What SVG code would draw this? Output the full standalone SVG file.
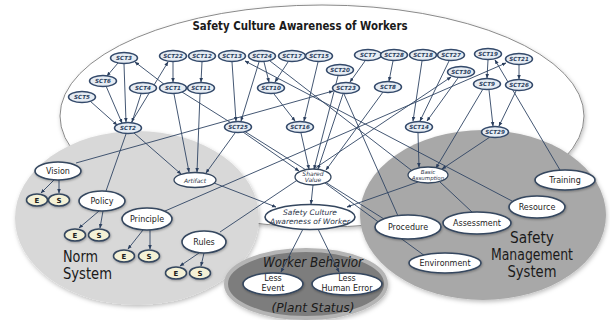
<svg xmlns="http://www.w3.org/2000/svg" width="610" height="320" viewBox="0 0 610 320">
  <defs>
    <filter id="soft" x="-10%" y="-10%" width="120%" height="130%">
      <feDropShadow dx="1" dy="2" stdDeviation="2" flood-color="#000" flood-opacity="0.25"/>
    </filter>
    <filter id="nshadow" x="-20%" y="-30%" width="140%" height="170%">
      <feDropShadow dx="0.6" dy="1" stdDeviation="0.8" flood-color="#000" flood-opacity="0.3"/>
    </filter>
    <marker id="ah" viewBox="0 0 10 10" refX="9" refY="5" markerWidth="5" markerHeight="5" orient="auto">
      <path d="M0,1 L10,5 L0,9 z" fill="#2b3f5e"/>
    </marker>
  </defs>
  <style>
    .sct ellipse { fill: #e6ecf3; stroke: #33496a; stroke-width: 1.5; }
    .sct text { font-family: "DejaVu Sans", sans-serif; font-style: italic; font-weight: bold; font-size: 5.6px; fill: #2b3f5e; text-anchor: middle; }
    .lvl ellipse { fill: #ffffff; stroke: #34465e; stroke-width: 1.6; filter: url(#nshadow); }
    .lvl text { font-family: "DejaVu Sans", sans-serif; font-size: 8px; fill: #1c1c1c; text-anchor: middle; }
    .mid ellipse { fill: #ffffff; stroke: #34465e; stroke-width: 1.3; }
    .mid text { font-family: "DejaVu Sans", sans-serif; font-style: italic; font-size: 6px; fill: #2b3448; text-anchor: middle; }
    .es ellipse { fill: #f4f1d6; stroke: #34465e; stroke-width: 1.5; filter: url(#nshadow); }
    .es text { font-family: "DejaVu Sans", sans-serif; font-weight: bold; font-size: 7px; fill: #1c1c1c; text-anchor: middle; }
    .big { font-family: "DejaVu Sans", sans-serif; font-size: 15px; fill: #1a1a1a; }
    .edges line { stroke: #2f4463; stroke-width: 0.9; }
    .edges .a { marker-end: url(#ah); }
  </style>

  <!-- background regions -->
  <g id="regions">
    <ellipse cx="322" cy="116" rx="262" ry="111" fill="#ffffff" stroke="#8a8a8a" stroke-width="1" filter="url(#soft)"/>
    <ellipse cx="137" cy="218" rx="122" ry="87" fill="#d8d8d8" filter="url(#soft)"/>
    <ellipse cx="483" cy="215" rx="123" ry="85" fill="#a8a8a8" filter="url(#soft)"/>
    <ellipse cx="306" cy="284" rx="80" ry="34" fill="#7d7d7d" stroke="#b4b4b4" stroke-width="4" filter="url(#soft)"/>
  </g>

  <!-- region titles -->
  <g id="titles">
    <text x="300" y="30" font-family="DejaVu Sans, sans-serif" font-weight="bold" font-size="12.5" text-anchor="middle" fill="#1a1a1a" textLength="215" lengthAdjust="spacingAndGlyphs">Safety Culture Awareness of Workers</text>
    <text class="big" x="63" y="262" textLength="35" lengthAdjust="spacingAndGlyphs">Norm</text>
    <text class="big" x="63" y="279" textLength="49" lengthAdjust="spacingAndGlyphs">System</text>
    <text class="big" x="532" y="243" text-anchor="middle" textLength="44" lengthAdjust="spacingAndGlyphs">Safety</text>
    <text class="big" x="532" y="260" text-anchor="middle" textLength="82" lengthAdjust="spacingAndGlyphs">Management</text>
    <text class="big" x="532" y="277" text-anchor="middle" textLength="49" lengthAdjust="spacingAndGlyphs">System</text>
    <text x="313" y="267" font-family="DejaVu Sans, sans-serif" font-style="italic" font-size="14" text-anchor="middle" fill="#1a1a1a" textLength="100" lengthAdjust="spacingAndGlyphs">Worker Behavior</text>
    <text x="313" y="312" font-family="DejaVu Sans, sans-serif" font-style="italic" font-size="13" text-anchor="middle" fill="#1a1a1a" textLength="83" lengthAdjust="spacingAndGlyphs">(Plant Status)</text>
  </g>

  <!-- connectors -->
  <g id="connectors" class="edges">
    <line class="a" x1="118" y1="63" x2="107" y2="76"/>
    <line class="a" x1="124" y1="64" x2="126" y2="122"/>
    <line class="a" x1="106" y1="86" x2="122" y2="123"/>
    <line class="a" x1="90" y1="101" x2="117" y2="125"/>
    <line class="a" x1="141" y1="94" x2="132" y2="122"/>
    <line class="a" x1="131" y1="123" x2="168" y2="62"/>
    <line class="a" x1="165" y1="85" x2="135" y2="62"/>
    <line class="a" x1="173" y1="62" x2="173" y2="82"/>
    <line class="a" x1="202" y1="62" x2="201" y2="82"/>
    <line class="a" x1="232" y1="62" x2="236" y2="121"/>
    <line class="a" x1="259" y1="62" x2="241" y2="121"/>
    <line class="a" x1="264" y1="62" x2="269" y2="82"/>
    <line class="a" x1="288" y1="62" x2="275" y2="82"/>
    <line class="a" x1="274" y1="94" x2="295" y2="121"/>
    <line class="a" x1="318" y1="62" x2="304" y2="121"/>
    <line class="a" x1="365" y1="61" x2="350" y2="82"/>
    <line class="a" x1="393" y1="61" x2="389" y2="81"/>
    <line class="a" x1="422" y1="61" x2="413" y2="121"/>
    <line class="a" x1="449" y1="61" x2="420" y2="121"/>
    <line class="a" x1="458" y1="78" x2="427" y2="121"/>
    <line class="a" x1="488" y1="60" x2="487" y2="78"/>
    <line class="a" x1="519" y1="65" x2="519" y2="79"/>
    <line class="a" x1="489" y1="90" x2="493" y2="126"/>
    <line class="a" x1="516" y1="91" x2="499" y2="126"/>
    <line class="a" x1="560" y1="170" x2="495" y2="60"/>
    <line class="a" x1="134" y1="133" x2="181" y2="174"/>
    <line class="a" x1="174" y1="94" x2="189" y2="172"/>
    <line class="a" x1="200" y1="94" x2="197" y2="172"/>
    <line class="a" x1="235" y1="133" x2="206" y2="173"/>
    <line class="a" x1="243" y1="132" x2="299" y2="171"/>
    <line class="a" x1="301" y1="133" x2="309" y2="169"/>
    <line class="a" x1="343" y1="94" x2="318" y2="169"/>
    <line class="a" x1="338" y1="76" x2="314" y2="169"/>
    <line class="a" x1="383" y1="92" x2="326" y2="170"/>
    <line class="a" x1="418" y1="133" x2="419" y2="167"/>
    <line class="a" x1="483" y1="89" x2="436" y2="168"/>
    <line class="a" x1="490" y1="137" x2="442" y2="169"/>
    <line x1="126" y1="134" x2="106" y2="191"/>
    <line class="a" x1="76" y1="163" x2="333" y2="91"/>
    <line class="a" x1="165" y1="211" x2="506" y2="63"/>
    <line class="a" x1="220" y1="232" x2="451" y2="77"/>
    <line x1="182" y1="92" x2="384" y2="219"/>
    <line class="a" x1="512" y1="201" x2="245" y2="61"/>
    <line x1="270" y1="61" x2="411" y2="170"/>
    <line x1="344" y1="94" x2="398" y2="216"/>
    <line class="a" x1="214" y1="183" x2="276" y2="207"/>
    <line class="a" x1="313" y1="185" x2="311" y2="204"/>
    <line class="a" x1="418" y1="182" x2="347" y2="207"/>
    <line x1="440" y1="182" x2="472" y2="212"/>
    <line x1="325" y1="183" x2="425" y2="256"/>
    <line class="a" x1="303" y1="229" x2="281" y2="272"/>
    <line class="a" x1="318" y1="229" x2="339" y2="272"/>
    <line class="a" x1="54" y1="180" x2="41" y2="193"/>
    <line class="a" x1="59" y1="180" x2="59" y2="193"/>
    <line class="a" x1="99" y1="211" x2="79" y2="228"/>
    <line class="a" x1="103" y1="211" x2="100" y2="228"/>
    <line class="a" x1="143" y1="230" x2="128" y2="249"/>
    <line class="a" x1="150" y1="230" x2="150" y2="249"/>
    <line class="a" x1="199" y1="253" x2="180" y2="266"/>
    <line class="a" x1="204" y1="253" x2="201" y2="266"/>
  </g>

  <!-- SCT nodes -->
  <g id="sct3" class="sct"><ellipse cx="124" cy="58" rx="13.5" ry="5.5"/><text x="124" y="60">SCT3</text></g>
  <g id="sct22" class="sct"><ellipse cx="173" cy="56" rx="13.5" ry="5.5"/><text x="173" y="58">SCT22</text></g>
  <g id="sct12" class="sct"><ellipse cx="202" cy="56" rx="13.5" ry="5.5"/><text x="202" y="58">SCT12</text></g>
  <g id="sct13" class="sct"><ellipse cx="232" cy="56" rx="13.5" ry="5.5"/><text x="232" y="58">SCT13</text></g>
  <g id="sct24" class="sct"><ellipse cx="262" cy="56" rx="13.5" ry="5.5"/><text x="262" y="58">SCT24</text></g>
  <g id="sct17" class="sct"><ellipse cx="292" cy="56" rx="13.5" ry="5.5"/><text x="292" y="58">SCT17</text></g>
  <g id="sct15" class="sct"><ellipse cx="319" cy="56" rx="13.5" ry="5.5"/><text x="319" y="58">SCT15</text></g>
  <g id="sct7" class="sct"><ellipse cx="368" cy="55" rx="13.5" ry="5.5"/><text x="368" y="57">SCT7</text></g>
  <g id="sct28" class="sct"><ellipse cx="394" cy="55" rx="13.5" ry="5.5"/><text x="394" y="57">SCT28</text></g>
  <g id="sct18" class="sct"><ellipse cx="423" cy="55" rx="13.5" ry="5.5"/><text x="423" y="57">SCT18</text></g>
  <g id="sct27" class="sct"><ellipse cx="451" cy="55" rx="13.5" ry="5.5"/><text x="451" y="57">SCT27</text></g>
  <g id="sct19" class="sct"><ellipse cx="488" cy="54" rx="13.5" ry="5.5"/><text x="488" y="56">SCT19</text></g>
  <g id="sct21" class="sct"><ellipse cx="519" cy="59" rx="13.5" ry="5.5"/><text x="519" y="61">SCT21</text></g>
  <g id="sct6" class="sct"><ellipse cx="103" cy="81" rx="13.5" ry="5.5"/><text x="103" y="83">SCT6</text></g>
  <g id="sct5" class="sct"><ellipse cx="82" cy="97" rx="13.5" ry="5.5"/><text x="82" y="99">SCT5</text></g>
  <g id="sct4" class="sct"><ellipse cx="143" cy="88" rx="13.5" ry="5.5"/><text x="143" y="90">SCT4</text></g>
  <g id="sct1" class="sct"><ellipse cx="173" cy="88" rx="13.5" ry="5.5"/><text x="173" y="90">SCT1</text></g>
  <g id="sct11" class="sct"><ellipse cx="201" cy="88" rx="13.5" ry="5.5"/><text x="201" y="90">SCT11</text></g>
  <g id="sct10" class="sct"><ellipse cx="271" cy="88" rx="13.5" ry="5.5"/><text x="271" y="90">SCT10</text></g>
  <g id="sct20" class="sct"><ellipse cx="340" cy="70" rx="13.5" ry="5.5"/><text x="340" y="72">SCT20</text></g>
  <g id="sct23" class="sct"><ellipse cx="346" cy="88" rx="13.5" ry="5.5"/><text x="346" y="90">SCT23</text></g>
  <g id="sct8" class="sct"><ellipse cx="388" cy="87" rx="13.5" ry="5.5"/><text x="388" y="89">SCT8</text></g>
  <g id="sct30" class="sct"><ellipse cx="461" cy="72" rx="13.5" ry="5.5"/><text x="461" y="74">SCT30</text></g>
  <g id="sct9" class="sct"><ellipse cx="487" cy="84" rx="13.5" ry="5.5"/><text x="487" y="86">SCT9</text></g>
  <g id="sct26" class="sct"><ellipse cx="519" cy="85" rx="13.5" ry="5.5"/><text x="519" y="87">SCT26</text></g>
  <g id="sct2" class="sct"><ellipse cx="128" cy="128" rx="13.5" ry="5.5"/><text x="128" y="130">SCT2</text></g>
  <g id="sct25" class="sct"><ellipse cx="238" cy="127" rx="13.5" ry="5.5"/><text x="238" y="129">SCT25</text></g>
  <g id="sct16" class="sct"><ellipse cx="300" cy="127" rx="13.5" ry="5.5"/><text x="300" y="129">SCT16</text></g>
  <g id="sct14" class="sct"><ellipse cx="419" cy="127" rx="13.5" ry="5.5"/><text x="419" y="129">SCT14</text></g>
  <g id="sct29" class="sct"><ellipse cx="495" cy="132" rx="13.5" ry="5.5"/><text x="495" y="134">SCT29</text></g>

  <!-- intermediate concepts -->
  <g id="artifact" class="mid"><ellipse cx="195" cy="180" rx="21" ry="7.5"/><text x="195" y="182.5">Artifact</text></g>
  <g id="shared-value" class="mid"><ellipse cx="313" cy="177" rx="18" ry="8"/><text x="313" y="175.5">Shared</text><text x="313" y="182">Value</text></g>
  <g id="basic-assumption" class="mid"><ellipse cx="428" cy="175" rx="20" ry="8"/><text x="428" y="173.5" style="font-size:5.5px">Basic</text><text x="428" y="180" style="font-size:5.5px">Assumption</text></g>
  <g id="awareness" class="mid"><ellipse cx="310" cy="217" rx="45" ry="12.5" style="stroke-width:1.6"/><text x="310" y="215" style="font-size:7.5px">Safety Culture</text><text x="310" y="224" style="font-size:7.5px">Awareness of Worker</text></g>

  <!-- norm system -->
  <g id="vision" class="lvl"><ellipse cx="58" cy="171" rx="23" ry="9"/><text x="58" y="174">Vision</text></g>
  <g id="vision-e" class="es"><ellipse cx="37" cy="200" rx="10.5" ry="6"/><text x="37" y="202.5">E</text></g>
  <g id="vision-s" class="es"><ellipse cx="59" cy="200" rx="10.5" ry="6"/><text x="59" y="202.5">S</text></g>
  <g id="policy" class="lvl"><ellipse cx="102" cy="201" rx="23" ry="10"/><text x="102" y="204">Policy</text></g>
  <g id="policy-e" class="es"><ellipse cx="75" cy="235" rx="10.5" ry="6"/><text x="75" y="237.5">E</text></g>
  <g id="policy-s" class="es"><ellipse cx="99" cy="235" rx="10.5" ry="6"/><text x="99" y="237.5">S</text></g>
  <g id="principle" class="lvl"><ellipse cx="147" cy="219" rx="25" ry="11"/><text x="147" y="222">Principle</text></g>
  <g id="principle-e" class="es"><ellipse cx="124" cy="256" rx="10.5" ry="6"/><text x="124" y="258.5">E</text></g>
  <g id="principle-s" class="es"><ellipse cx="149" cy="256" rx="10.5" ry="6"/><text x="149" y="258.5">S</text></g>
  <g id="rules" class="lvl"><ellipse cx="204" cy="242" rx="22" ry="11"/><text x="204" y="245">Rules</text></g>
  <g id="rules-e" class="es"><ellipse cx="176" cy="273" rx="10.5" ry="6"/><text x="176" y="275.5">E</text></g>
  <g id="rules-s" class="es"><ellipse cx="200" cy="273" rx="10.5" ry="6"/><text x="200" y="275.5">S</text></g>

  <!-- safety management system -->
  <g id="training" class="lvl"><ellipse cx="565" cy="180" rx="30" ry="10"/><text x="565" y="183">Training</text></g>
  <g id="resource" class="lvl"><ellipse cx="537" cy="207" rx="28" ry="11"/><text x="537" y="210">Resource</text></g>
  <g id="assessment" class="lvl"><ellipse cx="477" cy="223" rx="34" ry="11"/><text x="477" y="226">Assessment</text></g>
  <g id="procedure" class="lvl"><ellipse cx="408" cy="227" rx="33" ry="12"/><text x="408" y="230">Procedure</text></g>
  <g id="environment" class="lvl"><ellipse cx="445" cy="263" rx="36" ry="10"/><text x="445" y="266">Environment</text></g>

  <!-- worker behavior -->
  <g id="less-event" class="lvl"><ellipse cx="273" cy="284" rx="30" ry="11"/><text x="273" y="281">Less</text><text x="273" y="291">Event</text></g>
  <g id="less-human-error" class="lvl"><ellipse cx="347" cy="284" rx="35" ry="11"/><text x="347" y="281">Less</text><text x="347" y="291">Human Error</text></g>
</svg>
